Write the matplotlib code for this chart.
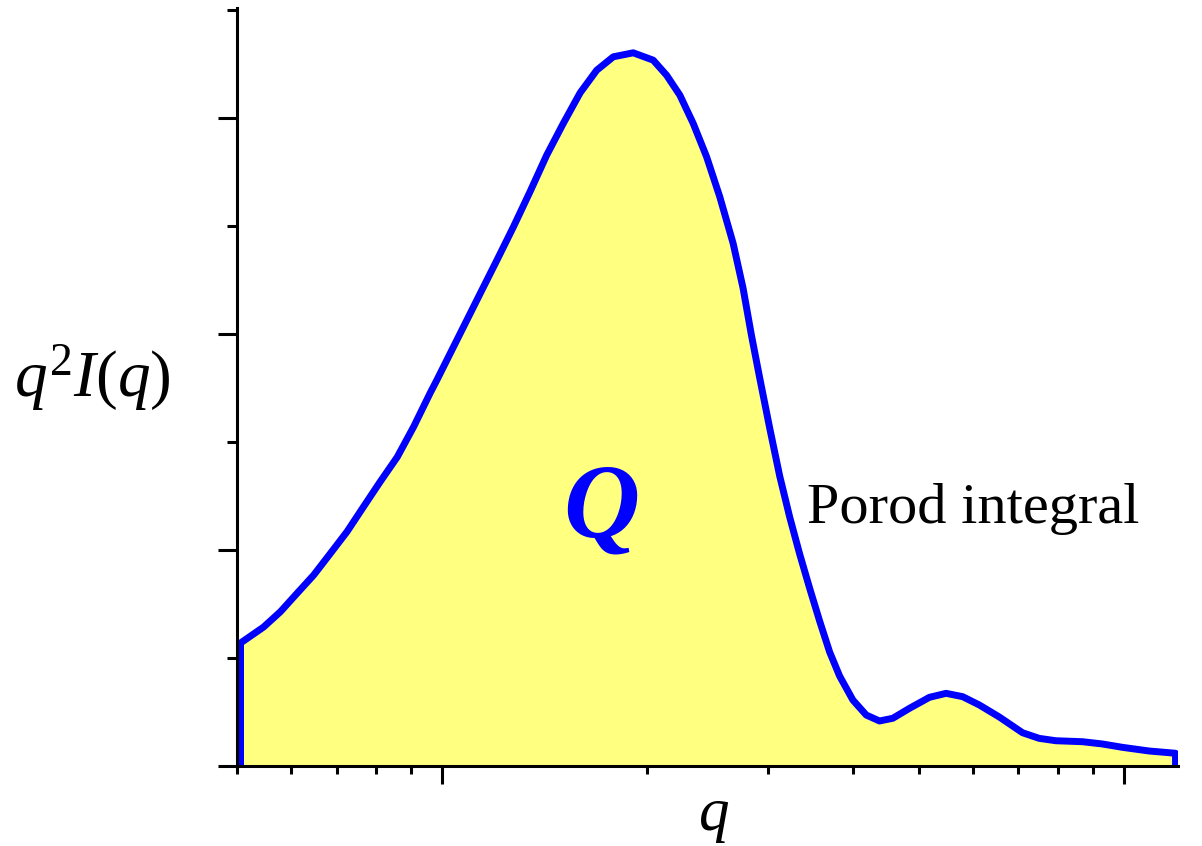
import numpy as np
import matplotlib.pyplot as plt
from matplotlib.ticker import LogLocator, MultipleLocator, NullFormatter

plt.rcParams['mathtext.fontset'] = 'custom'
plt.rcParams['mathtext.rm'] = 'Liberation Serif'
plt.rcParams['mathtext.it'] = 'Liberation Serif:italic'
plt.rcParams['mathtext.bf'] = 'Liberation Serif:bold:italic'

## Courbe de Kratky q^2 I(q) (valeurs relevées)
q = [0.506, 0.547, 0.579, 0.613, 0.648, 0.686, 0.725, 0.766, 0.811, 0.859,
     0.908, 0.960, 0.982, 1.137, 1.203, 1.272,
     1.345, 1.423, 1.505, 1.593, 1.685, 1.782, 1.906, 2.039, 2.133, 2.231,
     2.334, 2.442, 2.553, 2.671, 2.762, 2.841, 2.922, 3.022, 3.126, 3.233,
     3.344, 3.458, 3.577, 3.700, 3.827, 4.002, 4.187, 4.379, 4.580, 4.845,
     5.183, 5.483, 5.799, 6.135, 6.562, 7.099, 7.509, 7.943, 8.690, 9.296,
     9.943, 10.88, 11.90]
q2I = [1.139, 1.287, 1.429, 1.602, 1.769, 1.972, 2.170, 2.398, 2.633, 2.861,
       3.142, 3.454, 3.574, 4.377, 4.685, 4.994,
       5.318, 5.657, 5.951, 6.234, 6.444, 6.568, 6.605, 6.537, 6.398, 6.213,
       5.951, 5.642, 5.272, 4.840, 4.426, 3.991, 3.593, 3.130, 2.685, 2.306,
       1.963, 1.648, 1.343, 1.056, 0.833, 0.611, 0.472, 0.417, 0.442, 0.534,
       0.636, 0.673, 0.642, 0.565, 0.454, 0.308, 0.256, 0.234, 0.225, 0.204,
       0.173, 0.139, 0.118]

q_min, q_max = 0.5, 12.0
y_max = 7.02

fig = plt.figure(figsize=(12.02, 8.46), dpi=100)
ax = fig.add_axes([237/1202, 80/846, (1178-237)/1202, (766-8)/846])

# contour fermé jusqu'à l'axe aux deux extrémités
qq = [q[0]] + q + [q[-1]]
yy = [0.0] + q2I + [0.0]
ax.fill_between(q, q2I, 0, color='#ffff80', linewidth=0, zorder=1)
ax.plot(qq, yy, color='#0000ff', linewidth=5, solid_joinstyle='round', zorder=2)

ax.set_xscale('log')
ax.set_xlim(q_min, q_max)
ax.set_ylim(0, y_max)

ax.xaxis.set_major_locator(LogLocator(base=10, numticks=10))
ax.xaxis.set_minor_locator(LogLocator(base=10, subs=np.arange(2, 10), numticks=20))
ax.xaxis.set_major_formatter(NullFormatter())
ax.xaxis.set_minor_formatter(NullFormatter())
ax.yaxis.set_major_locator(MultipleLocator(2))
ax.yaxis.set_minor_locator(MultipleLocator(1))
ax.yaxis.set_major_formatter(NullFormatter())

ax.tick_params(axis='x', which='major', length=13, width=2.2, direction='out')
ax.tick_params(axis='x', which='minor', length=5.5, width=2.2, direction='out')
ax.tick_params(axis='y', which='major', length=14, width=2.2, direction='out')
ax.tick_params(axis='y', which='minor', length=7, width=2.2, direction='out')

for s in ['top', 'right']:
    ax.spines[s].set_visible(False)
for s in ['left', 'bottom']:
    ax.spines[s].set_linewidth(2.2)
    ax.spines[s].set_zorder(3)

fig.text(92/1202, 1 - 378/846, r'$q^2I(q)$', fontsize=47, ha='center', va='center')
fig.text(714/1202, 1 - 815/846, r'$q$', fontsize=44, ha='center', va='center')

fig.text(601/1202, 1 - 537/846, r'$\mathbf{Q}$', fontsize=76, color='#0000ff',
         ha='center', va='baseline')
fig.text(807/1202, 1 - 523/846, 'Porod integral', fontsize=42,
         family='Liberation Serif', ha='left', va='baseline')

fig.savefig('out.png', dpi=100)
